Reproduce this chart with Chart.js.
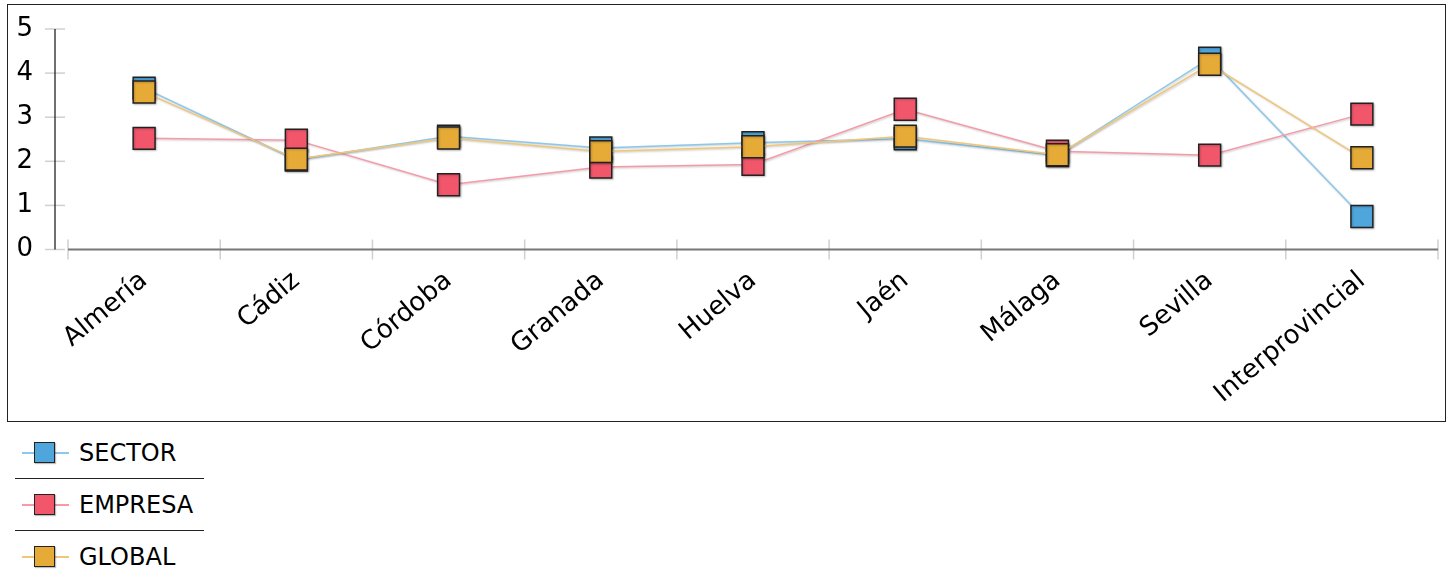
<!DOCTYPE html>
<html>
<head>
<meta charset="utf-8">
<script src="https://cdn.jsdelivr.net/npm/chart.js@4"></script>
<style>
  body { margin: 0; background: #fff; font-family: "DejaVu Sans", sans-serif; }
  #box { position: absolute; left: 7px; top: 4px; width: 1437px; height: 416px; border: 1px solid #222; overflow: hidden; }
  #legend { position: absolute; left: 0; top: 430px; }
  .item { position: absolute; left: 0; width: 220px; height: 30px; }
  .item .ln { position: absolute; left: 22px; top: 14px; width: 47px; height: 1.5px; }
  .item .sq { position: absolute; left: 34px; top: 4px; width: 19px; height: 19px; border: 1.5px solid #222; box-shadow: 1px 1px 1px rgba(0,0,0,0.25); }
  .item .tx { position: absolute; left: 79px; top: 0; font-size: 24px; line-height: 30px; color: #000; }
  .sep { position: absolute; left: 15px; width: 189px; height: 1px; background: #222; }
</style>
</head>
<body>
<div id="box"><canvas id="chart" width="1447" height="416"></canvas></div>
<div id="legend"></div>
<script>
const categories = ['Almería', 'Cádiz', 'Córdoba', 'Granada', 'Huelva', 'Jaén', 'Málaga', 'Sevilla', 'Interprovincial'];
const sectorValues = [3.66, 2.03, 2.57, 2.30, 2.42, 2.51, 2.13, 4.34, 0.75];
const empresaValues = [2.52, 2.48, 1.47, 1.87, 1.93, 3.18, 2.23, 2.14, 3.07];
const globalValues = [3.57, 2.05, 2.53, 2.22, 2.33, 2.57, 2.15, 4.20, 2.08];
const yTicks = [0, 1, 2, 3, 4, 5];

const series = [
  { label: 'SECTOR', data: sectorValues, fill: '#4fa6dc', line: '#8cc8ec', order: 3 },
  { label: 'EMPRESA', data: empresaValues, fill: '#f2566b', line: '#f79aa8', order: 2 },
  { label: 'GLOBAL', data: globalValues, fill: '#e6ab37', line: '#f0c677', order: 1 }
];

// draws the detached y axis and the x axis with ticks on both sides
const axesPlugin = {
  id: 'axes',
  beforeDatasetsDraw(chart) {
    const ctx = chart.ctx;
    const area = chart.chartArea;
    const y = chart.scales.y;
    const x = chart.scales.x;
    ctx.save();
    const ax = area.left - 13;
    ctx.strokeStyle = '#d0d0d0';
    ctx.lineWidth = 1.5;
    yTicks.forEach(v => {
      const py = y.getPixelForValue(v);
      ctx.beginPath();
      ctx.moveTo(ax - 10, py);
      ctx.lineTo(ax + 10, py);
      ctx.stroke();
    });
    ctx.strokeStyle = '#111';
    ctx.lineWidth = 1.2;
    ctx.beginPath();
    ctx.moveTo(ax, y.getPixelForValue(5));
    ctx.lineTo(ax, y.getPixelForValue(0));
    ctx.stroke();

    const base = y.getPixelForValue(0);
    ctx.strokeStyle = '#d0d0d0';
    ctx.lineWidth = 1.5;
    for (let i = 0; i <= categories.length; i++) {
      const px = x.getPixelForValue(i - 0.5);
      ctx.beginPath();
      ctx.moveTo(px, base - 10);
      ctx.lineTo(px, base + 10);
      ctx.stroke();
    }
    ctx.strokeStyle = '#777';
    ctx.lineWidth = 2;
    ctx.beginPath();
    ctx.moveTo(area.left, base);
    ctx.lineTo(area.right, base);
    ctx.stroke();
    ctx.restore();
  },
  // soft shadow under lines and markers
  beforeDatasetDraw(chart) {
    const ctx = chart.ctx;
    ctx.save();
    ctx.shadowColor = 'rgba(0,0,0,0.22)';
    ctx.shadowBlur = 2;
    ctx.shadowOffsetX = 1;
    ctx.shadowOffsetY = 1;
  },
  afterDatasetDraw(chart) {
    chart.ctx.restore();
  }
};

const ctx = document.getElementById('chart').getContext('2d');
new Chart(ctx, {
  type: 'line',
  data: {
    labels: categories,
    datasets: series.map(s => ({
      label: s.label,
      data: s.data,
      order: s.order,
      borderColor: s.line,
      borderWidth: 1.5,
      backgroundColor: s.fill,
      pointStyle: 'rect',
      pointRadius: 15.5,
      pointBackgroundColor: s.fill,
      pointBorderColor: '#222',
      pointBorderWidth: 1.5,
      tension: 0
    }))
  },
  options: {
    responsive: false,
    animation: false,
    layout: { padding: { top: 24, right: 0, left: 0, bottom: 0 } },
    plugins: { legend: { display: false }, tooltip: { enabled: false } },
    scales: {
      x: {
        offset: true,
        grid: { display: false },
        border: { display: false },
        ticks: {
          autoSkip: false,
          minRotation: 40,
          maxRotation: 40,
          padding: 8,
          color: '#000',
          font: { family: 'DejaVu Sans', size: 26 }
        },
        afterFit(scale) { scale.height = 171.5; }
      },
      y: {
        min: 0,
        max: 5,
        afterBuildTicks(scale) { scale.ticks = yTicks.map(v => ({ value: v })); },
        grid: { drawOnChartArea: false, color: 'rgba(0,0,0,0)', tickLength: 32 },
        border: { display: false },
        ticks: {
          padding: 3,
          color: '#000',
          font: { family: 'DejaVu Sans', size: 26 }
        },
        afterFit(scale) { scale.width = 60; }
      }
    }
  },
  plugins: [axesPlugin]
});

// legend with separators, below the framed chart
const legend = document.getElementById('legend');
series.forEach((s, i) => {
  const item = document.createElement('div');
  item.className = 'item';
  item.style.top = (i * 52 + 8) + 'px';
  item.innerHTML = '<div class="ln" style="background:' + s.line + '"></div>' +
    '<div class="sq" style="background:' + s.fill + '"></div>' +
    '<div class="tx">' + s.label + '</div>';
  legend.appendChild(item);
  if (i < series.length - 1) {
    const sep = document.createElement('div');
    sep.className = 'sep';
    sep.style.top = (i * 52 + 48) + 'px';
    legend.appendChild(sep);
  }
});
</script>
</body>
</html>
